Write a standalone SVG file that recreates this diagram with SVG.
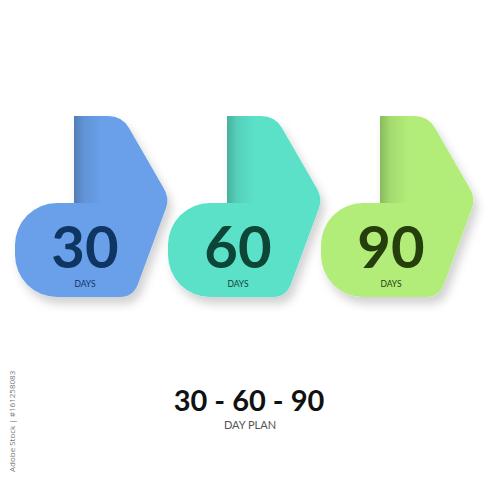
<svg xmlns="http://www.w3.org/2000/svg" width="500" height="500" viewBox="0 0 500 500">
<defs>
<style>
.num{font-family:Lato,"Open Sans","Liberation Sans",sans-serif;font-weight:700;font-size:58px;text-anchor:middle}
.days{font-family:Lato,"Open Sans","Liberation Sans",sans-serif;font-size:8.5px;text-anchor:middle}
.title{font-family:Lato,"Open Sans","Liberation Sans",sans-serif;font-weight:700;font-size:29px;text-anchor:middle;fill:#111}
.sub{font-family:Lato,"Open Sans","Liberation Sans",sans-serif;font-size:11px;text-anchor:middle;fill:#555}
.wm{font-family:"Open Sans","Liberation Sans",sans-serif;font-size:8px;fill:#777}
</style>
<path id="tab" d="M74,116 H108 Q122,116 129,128 L163,187 Q170,198 166,208 L138,284 Q133,297 120,297 H57 A42,42 0 0 1 15,255 V245 A42,42 0 0 1 57,203 H74 Z"/>
<clipPath id="clip"><use href="#tab"/></clipPath>
<linearGradient id="fold" x1="0" y1="0" x2="1" y2="0">
<stop offset="0" stop-color="#000" stop-opacity="0.22"/>
<stop offset="0.35" stop-color="#000" stop-opacity="0.08"/>
<stop offset="1" stop-color="#000" stop-opacity="0"/>
</linearGradient>
<filter id="sh" x="-20%" y="-20%" width="150%" height="150%">
<feDropShadow dx="4" dy="7" stdDeviation="5" flood-color="#000" flood-opacity="0.18"/>
</filter>
</defs>
<rect width="500" height="500" fill="#fff"/>
<g id="node-30">
<use href="#tab" fill="#69a0e9" filter="url(#sh)"/>
<rect x="74" y="116" width="28" height="87" fill="url(#fold)" clip-path="url(#clip)"/>
<text class="num" x="85" y="268" fill="#0f3562">30</text>
<text class="days" x="85" y="287" fill="#0f3562">DAYS</text>
</g>
<g id="node-60" transform="translate(153,0)">
<use href="#tab" fill="#5ce1c9" filter="url(#sh)"/>
<rect x="74" y="116" width="28" height="87" fill="url(#fold)" clip-path="url(#clip)"/>
<text class="num" x="85" y="268" fill="#0d4536">60</text>
<text class="days" x="85" y="287" fill="#0d4536">DAYS</text>
</g>
<g id="node-90" transform="translate(306,0)">
<use href="#tab" fill="#b1ed78" filter="url(#sh)"/>
<rect x="74" y="116" width="28" height="87" fill="url(#fold)" clip-path="url(#clip)"/>
<text class="num" x="85" y="268" fill="#243f0c">90</text>
<text class="days" x="85" y="287" fill="#243f0c">DAYS</text>
</g>
<g id="connectors"/>
<g id="title">
<text class="title" x="249" y="411">30 - 60 - 90</text>
<text class="sub" x="250" y="429">DAY PLAN</text>
</g>
<text class="wm" transform="translate(15,472) rotate(-90)">Adobe Stock | #161258083</text>
</svg>
